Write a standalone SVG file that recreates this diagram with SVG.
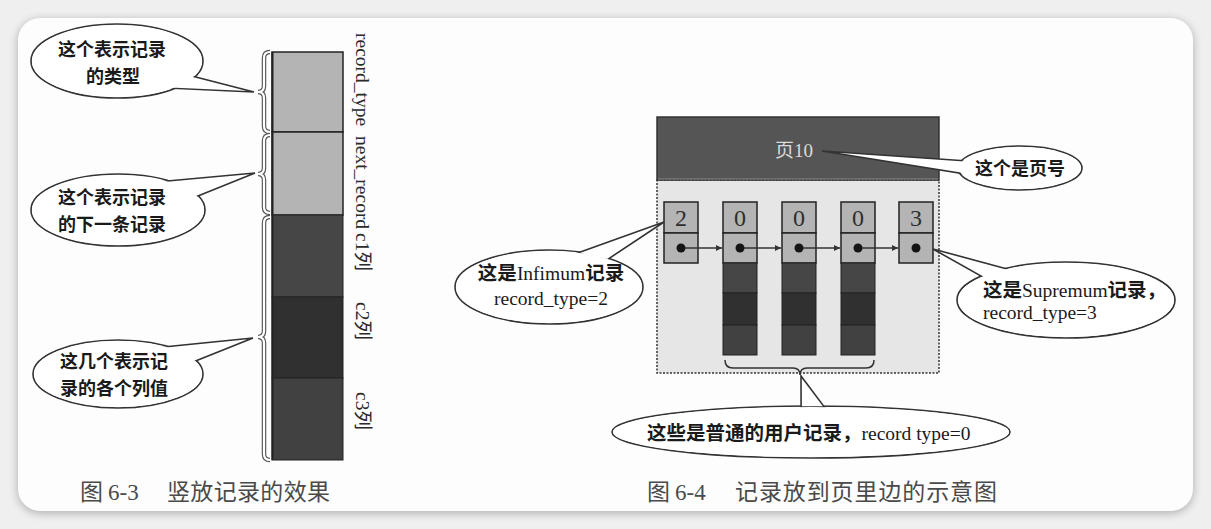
<svg xmlns="http://www.w3.org/2000/svg" width="1211" height="529" viewBox="0 0 1211 529">
<style>
.bub{fill:#fff;stroke:#333;stroke-width:1.6}
.cov{fill:#fff;stroke:none}
.bt{font-family:"Liberation Serif","Noto Sans CJK SC",serif;font-size:19.5px;fill:#1a1a1a}
.bs{font-family:"Noto Sans CJK SC",sans-serif;font-weight:bold;font-size:18px;fill:#1a1a1a;text-anchor:middle}
.cj{font-family:"Noto Sans CJK SC",sans-serif;font-weight:bold}
.vt{font-family:"Liberation Serif","Noto Sans CJK SC",serif;font-size:19.5px;fill:#2a2a2a}
.cap{font-family:"Liberation Serif","Noto Sans CJK SC",serif;font-size:23px;fill:#4a4a4a}
.lt{fill:#b4b4b4;stroke:#222;stroke-width:1.5}
.d1{fill:#464646;stroke:#222;stroke-width:1}
.d2{fill:#303030;stroke:#222;stroke-width:1}
.d3{fill:#414141;stroke:#222;stroke-width:1}
.num{font-family:"Liberation Serif",serif;font-size:24px;fill:#2e2e2e;text-anchor:middle}
.dot{fill:#151515}
.arr{stroke:#333;stroke-width:1.3;fill:none;marker-end:url(#ah)}
.br1{fill:none;stroke:#555;stroke-width:4.5}
.br2{fill:none;stroke:#fff;stroke-width:2.2}
.br3{fill:none;stroke:#333;stroke-width:1.5}
</style>
<defs>
<marker id="ah" viewBox="0 0 10 10" refX="10" refY="5" markerWidth="8" markerHeight="6" markerUnits="userSpaceOnUse" orient="auto">
<path d="M0,0 L10,5 L0,10 z" fill="#333"/>
</marker>
<filter id="sh" x="-5%" y="-5%" width="110%" height="110%"><feGaussianBlur stdDeviation="5"/></filter>
</defs>
<rect width="1211" height="529" fill="#efefef"/>
<rect x="18" y="20" width="1175" height="493" rx="22" fill="#000" opacity="0.28" filter="url(#sh)"/>
<rect x="18" y="18" width="1175" height="493" rx="22" fill="#fdfdfd"/>

<!-- Figure 6-3 -->
<g id="bar">
<rect x="272" y="52" width="71" height="80" class="lt" stroke-width="1"/>
<rect x="272" y="132" width="71" height="83" class="lt" stroke-width="1"/>
<rect x="272" y="215" width="71" height="82" class="d1"/>
<rect x="272" y="297" width="71" height="81" class="d2"/>
<rect x="272" y="378" width="71" height="82" class="d3"/>
<line x1="272.5" y1="52" x2="272.5" y2="460" stroke="#222" stroke-width="2"/>
</g>
<g id="bar-labels">
<text class="vt" transform="translate(356,33) rotate(90)">record_type</text>
<text class="vt" transform="translate(356,136) rotate(90)">next_record</text>
<text class="vt" transform="translate(356,233) rotate(90)">c1列</text>
<text class="vt" transform="translate(356,302) rotate(90)">c2列</text>
<text class="vt" transform="translate(356,392) rotate(90)">c3列</text>
</g>
<g id="braces-left">
<path class="br1" d="M270,52 Q264,52 264,58 L264,86 Q264,92 258,92 Q264,92 264,98 L264,126 Q264,132 270,132"/>
<path class="br2" d="M270,52 Q264,52 264,58 L264,86 Q264,92 258,92 Q264,92 264,98 L264,126 Q264,132 270,132"/>
<path class="br1" d="M270,135 Q264,135 264,141 L264,168 Q264,174 258,174 Q264,174 264,180 L264,207 Q264,213 270,213"/>
<path class="br2" d="M270,135 Q264,135 264,141 L264,168 Q264,174 258,174 Q264,174 264,180 L264,207 Q264,213 270,213"/>
<path class="br1" d="M270,217 Q264,217 264,223 L264,331 Q264,337 258,337 Q264,337 264,343 L264,454 Q264,460 270,460"/>
<path class="br2" d="M270,217 Q264,217 264,223 L264,331 Q264,337 258,337 Q264,337 264,343 L264,454 Q264,460 270,460"/>
</g>
<g id="bubble-type">
<ellipse class="bub" cx="117" cy="61" rx="86" ry="37"/>
<polygon class="bub" points="191.8,76 254,92 170.1,88.2"/>
<ellipse class="cov" cx="117" cy="61" rx="85" ry="36"/>
<text class="bs" x="112" y="56">这个表示记录</text>
<text class="bs" x="113" y="82.5">的类型</text>
</g>
<g id="bubble-next">
<ellipse class="bub" cx="118" cy="210" rx="87" ry="36"/>
<polygon class="bub" points="195.4,197 255,173 164.7,181.3"/>
<ellipse class="cov" cx="118" cy="210" rx="86" ry="35"/>
<text class="bs" x="112" y="204">这个表示记录</text>
<text class="bs" x="112" y="230.5">的下一条记录</text>
</g>
<g id="bubble-cols">
<ellipse class="bub" cx="118" cy="374" rx="85" ry="34"/>
<polygon class="bub" points="193.6,361.8 253,338 163.6,346.9"/>
<ellipse class="cov" cx="118" cy="374" rx="84" ry="33"/>
<text class="bs" x="114" y="368">这几个表示记</text>
<text class="bs" x="114" y="394.5">录的各个列值</text>
</g>
<g id="caption-63">
<text class="cap" x="80" y="500">图</text>
<text class="cap" x="108" y="500">6-3</text>
<text class="cap" x="167" y="500" textLength="163" lengthAdjust="spacing">竖放记录的效果</text>
</g>

<!-- Figure 6-4 -->
<g id="page">
<rect x="657" y="180" width="282" height="193" fill="#e6e6e6" stroke="#333" stroke-width="1.5" stroke-dasharray="2,1.5"/>
<rect x="657" y="117" width="282" height="63" fill="#555" stroke="#333" stroke-width="1.5"/>
<line x1="658" y1="179" x2="938" y2="179" stroke="#8a8a8a" stroke-width="1"/>
<text x="775" y="157" font-family="Liberation Serif,Noto Sans CJK SC,serif" font-size="19" fill="#dcdcdc">页10</text>
</g>
<g id="rec-infimum">
<rect x="664" y="202" width="34" height="31" class="lt"/>
<rect x="664" y="233" width="34" height="30" class="lt"/>
<text class="num" x="681" y="226">2</text>
<circle class="dot" cx="681" cy="248" r="4.5"/>
</g>
<g id="rec-user1">
<rect x="723" y="202" width="34" height="31" class="lt"/>
<rect x="723" y="233" width="34" height="30" class="lt"/>
<rect x="723" y="263" width="34" height="30" class="d1"/>
<rect x="723" y="293" width="34" height="32" class="d2"/>
<rect x="723" y="325" width="34" height="30" class="d3"/>
<text class="num" x="740" y="226">0</text>
<circle class="dot" cx="740" cy="248" r="4.5"/>
</g>
<g id="rec-user2">
<rect x="782" y="202" width="34" height="31" class="lt"/>
<rect x="782" y="233" width="34" height="30" class="lt"/>
<rect x="782" y="263" width="34" height="30" class="d1"/>
<rect x="782" y="293" width="34" height="32" class="d2"/>
<rect x="782" y="325" width="34" height="30" class="d3"/>
<text class="num" x="799" y="226">0</text>
<circle class="dot" cx="799" cy="248" r="4.5"/>
</g>
<g id="rec-user3">
<rect x="841" y="202" width="34" height="31" class="lt"/>
<rect x="841" y="233" width="34" height="30" class="lt"/>
<rect x="841" y="263" width="34" height="30" class="d1"/>
<rect x="841" y="293" width="34" height="32" class="d2"/>
<rect x="841" y="325" width="34" height="30" class="d3"/>
<text class="num" x="858" y="226">0</text>
<circle class="dot" cx="858" cy="248" r="4.5"/>
</g>
<g id="rec-supremum">
<rect x="899" y="202" width="34" height="31" class="lt"/>
<rect x="899" y="233" width="34" height="30" class="lt"/>
<text class="num" x="916" y="226">3</text>
<circle class="dot" cx="916" cy="248" r="4.5"/>
</g>
<g id="connectors">
<line class="arr" x1="685" y1="248" x2="722" y2="248"/>
<line class="arr" x1="744" y1="248" x2="781" y2="248"/>
<line class="arr" x1="803" y1="248" x2="840" y2="248"/>
<line class="arr" x1="862" y1="248" x2="898" y2="248"/>
</g>
<g id="brace-user">
<path class="br3" d="M725,360 Q725,368 733,368 L793,368 Q800,368 800,375 Q800,368 807,368 L866,368 Q874,368 874,360"/>
</g>
<g id="bubble-page">
<ellipse class="bub" cx="1020" cy="168" rx="62" ry="22"/>
<polygon class="bub" points="964.1,160.8 822,151 962.5,173.5"/>
<ellipse class="cov" cx="1020" cy="168" rx="61" ry="21"/>
<text class="bs" x="1020" y="175">这个是页号</text>
</g>
<g id="bubble-infimum">
<ellipse class="bub" cx="549" cy="287" rx="94" ry="37"/>
<polygon class="bub" points="576.9,253.2 664,222 607,259.8"/>
<ellipse class="cov" cx="549" cy="287" rx="93" ry="36"/>
<text class="bt" x="551" y="280" text-anchor="middle"><tspan class="cj">这是</tspan>Infimum<tspan class="cj">记录</tspan></text>
<text class="bt" x="551" y="305" text-anchor="middle">record_type=2</text>
</g>
<g id="bubble-supremum">
<ellipse class="bub" cx="1066" cy="300" rx="109" ry="38"/>
<polygon class="bub" points="1009,269.4 933,249 983.5,277.5"/>
<ellipse class="cov" cx="1066" cy="300" rx="108" ry="37"/>
<text class="bt" x="983" y="297"><tspan class="cj">这是</tspan>Supremum<tspan class="cj">记录，</tspan></text>
<text class="bt" x="983" y="319">record_type=3</text>
</g>
<g id="bubble-user">
<ellipse class="bub" cx="811" cy="432" rx="199" ry="26"/>
<polygon class="bub" points="801.1,407.1 801,376 824.4,407.1"/>
<ellipse class="cov" cx="811" cy="432" rx="198" ry="25"/>
<text class="bt" x="647" y="440"><tspan class="cj">这些是普通的用户记录，</tspan>record type=0</text>
</g>
<g id="caption-64">
<text class="cap" x="647" y="500">图</text>
<text class="cap" x="675" y="500">6-4</text>
<text class="cap" x="735" y="500" textLength="262" lengthAdjust="spacing">记录放到页里边的示意图</text>
</g>
</svg>
